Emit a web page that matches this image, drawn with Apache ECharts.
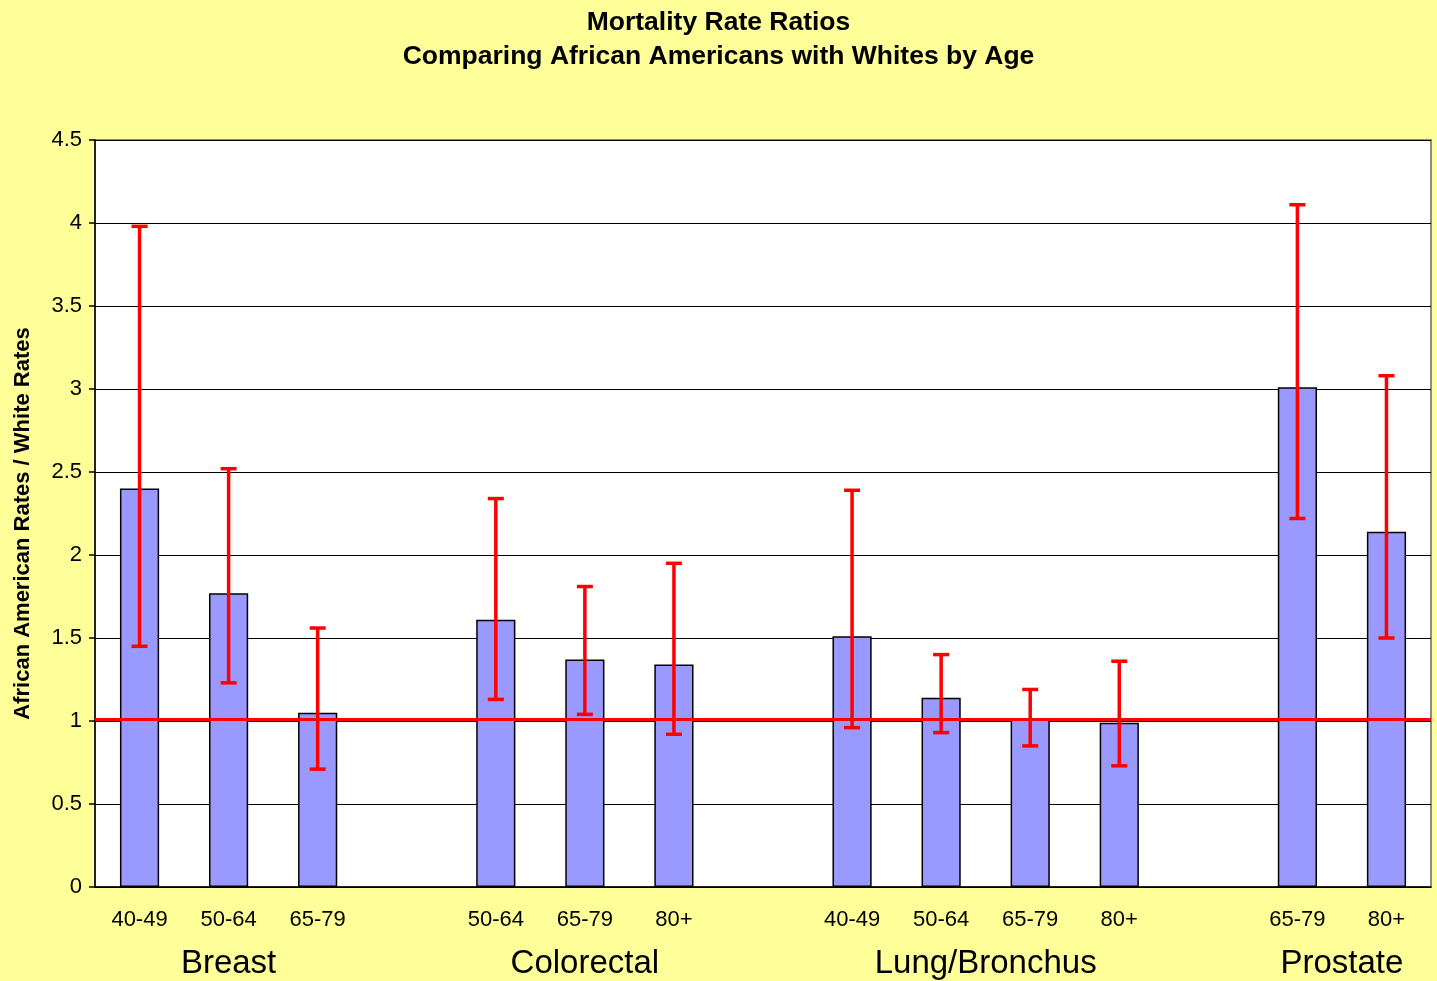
<!DOCTYPE html>
<html>
<head>
<meta charset="utf-8">
<title>Mortality Rate Ratios</title>
<script src="https://cdn.jsdelivr.net/npm/echarts@6/dist/echarts.min.js"></script>
<style>
    html, body { margin: 0; padding: 0; background: #ffff99; }
    #chart { width: 1437px; height: 981px; }
</style>
</head>
<body>
<div id="chart"></div>
<script>
    // age groups, one slot per bar, empty slots are the gaps between cancer sites
    const categories = ['40-49', '50-64', '65-79', '', '50-64', '65-79', '80+', '',
        '40-49', '50-64', '65-79', '80+', '', '65-79', '80+'];
    const ratios = [2.40, 1.77, 1.05, null, 1.61, 1.37, 1.34, null,
        1.51, 1.14, 1.01, 0.99, null, 3.01, 2.14];
    const ciLow = [1.45, 1.23, 0.71, null, 1.13, 1.04, 0.92, null,
        0.96, 0.93, 0.85, 0.73, null, 2.22, 1.50];
    const ciHigh = [3.98, 2.52, 1.56, null, 2.34, 1.81, 1.95, null,
        2.39, 1.40, 1.19, 1.36, null, 4.11, 3.08];

    const groupNames = ['Breast', 'Colorectal', 'Lung/Bronchus', 'Prostate'];
    const groupFirst = [0, 4, 8, 13];
    const groupLast = [2, 6, 11, 14];

    const refLine = 1.01;

    const font = 'Liberation Sans, Arial, sans-serif';

    const errData = [];
    ratios.forEach((v, i) => {
        if (v !== null) errData.push([i, ciLow[i], ciHigh[i]]);
    });

    const chart = echarts.init(document.getElementById('chart'));
    chart.setOption({
        animation: false,
        backgroundColor: '#ffff99',
        title: {
            text: 'Mortality Rate Ratios\nComparing African Americans with Whites by Age',
            left: 'center',
            top: 1,
            textStyle: {
                fontFamily: font,
                fontSize: 26.5,
                fontWeight: 'bold',
                lineHeight: 34,
                color: '#000'
            }
        },
        grid: {
            left: 95,
            right: 6,
            top: 140,
            bottom: 94,
            show: true,
            backgroundColor: '#fff',
            borderColor: '#8c8c8c',
            borderWidth: 2
        },
        xAxis: {
            type: 'category',
            data: categories,
            axisLine: { lineStyle: { color: '#000', width: 1.5 } },
            axisTick: { interval: 0, length: 6, lineStyle: { color: '#000', width: 1.5 } },
            axisLabel: {
                interval: 0,
                margin: 22,
                color: '#000',
                fontFamily: font,
                fontSize: 22
            },
            splitLine: { show: false }
        },
        yAxis: {
            type: 'value',
            min: 0,
            max: 4.5,
            interval: 0.5,
            name: 'African American Rates / White Rates',
            nameLocation: 'middle',
            nameGap: 61,
            nameTextStyle: {
                fontFamily: font,
                fontSize: 22,
                fontWeight: 'bold',
                color: '#000',
                padding: [0, 20, 0, 0]
            },
            axisLine: { show: true, lineStyle: { color: '#000', width: 1.5 } },
            axisTick: { show: true, inside: false, length: 6, lineStyle: { color: '#000', width: 1.5 } },
            axisLabel: {
                margin: 13,
                color: '#000',
                fontFamily: font,
                fontSize: 22
            },
            splitLine: { lineStyle: { color: '#000', width: 1.2 } }
        },
        series: [{
            name: 'ratio',
            type: 'bar',
            data: ratios.map(v => v === null ? '-' : v),
            barWidth: '44%',
            itemStyle: {
                color: '#9999ff',
                borderColor: '#000',
                borderWidth: 1.5
            },
            z: 2,
            markLine: {
                silent: true,
                symbol: 'none',
                label: { show: false },
                lineStyle: { color: '#ff0000', width: 3, type: 'solid' },
                data: [{ yAxis: refLine }],
                z: 3
            }
        }, {
            name: 'ci',
            type: 'custom',
            data: errData,
            encode: { x: 0, y: [1, 2] },
            z: 4,
            renderItem: (params, api) => {
                const x = api.value(0);
                const lo = api.coord([x, api.value(1)]);
                const hi = api.coord([x, api.value(2)]);
                const half = 8;
                const style = { stroke: '#ff0000', lineWidth: 3.5 };
                return {
                    type: 'group',
                    children: [
                        { type: 'line', shape: { x1: lo[0], y1: lo[1], x2: hi[0], y2: hi[1] }, style: style },
                        { type: 'line', shape: { x1: lo[0] - half, y1: lo[1], x2: lo[0] + half, y2: lo[1] }, style: style },
                        { type: 'line', shape: { x1: hi[0] - half, y1: hi[1], x2: hi[0] + half, y2: hi[1] }, style: style }
                    ]
                };
            }
        }]
    });

    // cancer site labels centred under each group of bars
    const groupLabels = groupNames.map((name, i) => {
        const a = chart.convertToPixel({ xAxisIndex: 0 }, groupFirst[i]);
        const b = chart.convertToPixel({ xAxisIndex: 0 }, groupLast[i]);
        return {
            type: 'text',
            x: (a + b) / 2,
            y: 964,
            style: {
                text: name,
                fontFamily: font,
                fontSize: 33,
                fill: '#000',
                textAlign: 'center',
                textVerticalAlign: 'middle'
            }
        };
    });
    chart.setOption({ graphic: groupLabels });
</script>
</body>
</html>
